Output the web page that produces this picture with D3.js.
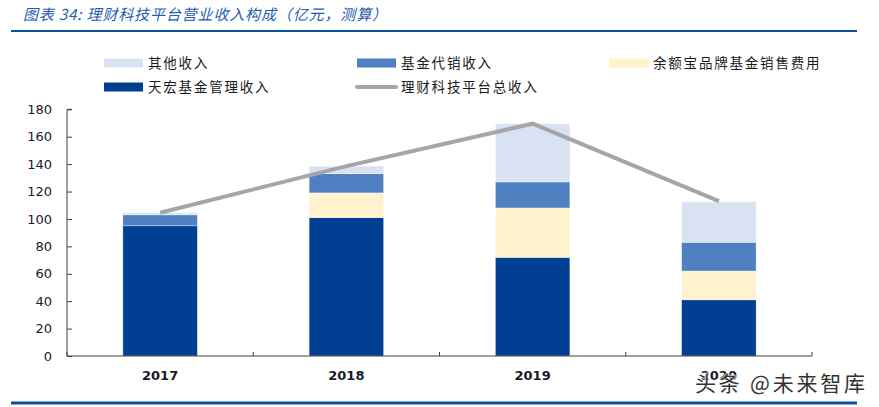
<!DOCTYPE html>
<html>
<head>
<meta charset="utf-8">
<script src="https://cdn.jsdelivr.net/npm/d3@7"></script>
<style>
  html, body { margin: 0; padding: 0; background: #fff; }
  svg { display: block; }
</style>
</head>
<body>
<div id="chart"></div>
<script>
// ---- data ----
const categories = ["2017", "2018", "2019", "2020"];
const seriesNames = ["天宏基金管理收入", "余额宝品牌基金销售费用", "基金代销收入", "其他收入"];
const tianhong = [95, 101, 72, 41];          // 天宏基金管理收入
const yuebao = [0, 18, 36, 21];              // 余额宝品牌基金销售费用
const fundSales = [8, 14, 19, 21];           // 基金代销收入
const others = [1.5, 5.5, 42.5, 29.5];       // 其他收入
const totalName = "理财科技平台总收入";
const totals = [104.5, 138.5, 169.5, 113];   // 理财科技平台总收入
const yTicks = [0, 20, 40, 60, 80, 100, 120, 140, 160, 180];
const title = "图表 34:  理财科技平台营业收入构成（亿元，测算）";
const watermark = "头条 @未来智库";

// ---- styles ----
const colors = {
  "天宏基金管理收入": "#013f93",
  "余额宝品牌基金销售费用": "#fff2cc",
  "基金代销收入": "#4f81c2",
  "其他收入": "#d9e2f3"
};
const lineColor = "#a6a6a6";
const W = 879, H = 407;
const mLeft = 67, mRight = 812, mTop = 109.3, mBottom = 356;

const svg = d3.select("#chart").append("svg").attr("width", W).attr("height", H);

// title
svg.append("text")
  .attr("x", 23).attr("y", 20)
  .attr("textLength", 364).attr("lengthAdjust", "spacing")
  .style("font-family", "'Noto Sans CJK SC', sans-serif")
  .style("font-size", "15px").style("font-style", "italic")
  .style("fill", "#1f5cb0")
  .text(title);
svg.append("line").attr("x1", 11).attr("x2", 857).attr("y1", 31).attr("y2", 31)
  .attr("stroke", "#0d4ea3").attr("stroke-width", 2.2);
svg.append("line").attr("x1", 11).attr("x2", 857).attr("y1", 403).attr("y2", 403)
  .attr("stroke", "#0d4ea3").attr("stroke-width", 3);

// scales
const x = d3.scaleBand().domain(categories).range([mLeft, mRight]).padding(0);
const y = d3.scaleLinear().domain([0, 180]).range([mBottom, mTop]);
const barW = x.bandwidth() * 0.4;

// stack
const rows = categories.map((c, i) => ({
  cat: c,
  "天宏基金管理收入": tianhong[i],
  "余额宝品牌基金销售费用": yuebao[i],
  "基金代销收入": fundSales[i],
  "其他收入": others[i]
}));
const stacked = d3.stack().keys(seriesNames)(rows);

const g = svg.append("g");
g.selectAll("g.series").data(stacked).join("g")
  .attr("class", "series")
  .attr("fill", d => colors[d.key])
  .selectAll("rect").data(d => d).join("rect")
  .attr("x", d => x(d.data.cat) + (x.bandwidth() - barW) / 2)
  .attr("width", barW)
  .attr("y", d => y(d[1]))
  .attr("height", d => Math.max(0, y(d[0]) - y(d[1])))
  .attr("stroke", "#ffffff").attr("stroke-opacity", 0.6).attr("stroke-width", 0.6);

// y axis
const yAxis = d3.axisRight(y).tickValues(yTicks).tickSize(5).tickFormat(d3.format("d"));
const ya = svg.append("g").attr("transform", `translate(${mLeft},0)`).call(yAxis);
ya.select(".domain").attr("stroke", "#404040").attr("d", `M5,${mTop}H0V${mBottom}`);
ya.selectAll(".tick line").attr("stroke", "#404040");
ya.selectAll(".tick text")
  .attr("x", -15).attr("text-anchor", "end")
  .style("font-family", "'DejaVu Sans', sans-serif")
  .style("font-size", "13px").style("fill", "#1a1a2a");

// x axis
const xa = svg.append("g").attr("transform", `translate(0,${mBottom})`)
  .call(d3.axisBottom(x).tickSize(0).tickPadding(15));
xa.select(".domain").attr("stroke", "#404040").attr("d", `M${mLeft},0H${mRight}`);
xa.selectAll(".tick text")
  .style("font-family", "'DejaVu Sans', sans-serif")
  .style("font-size", "13px").style("font-weight", "bold").style("fill", "#1a1a2a");
// boundary ticks between categories
const bounds = categories.map(c => x(c)).concat([x(categories[categories.length - 1]) + x.bandwidth()]);
xa.selectAll("line.bt").data(bounds).join("line").attr("class", "bt")
  .attr("x1", d => d).attr("x2", d => d).attr("y1", 0).attr("y2", -4)
  .attr("stroke", "#404040");

// total line
const line = d3.line()
  .x((d, i) => x(categories[i]) + x.bandwidth() / 2)
  .y(d => y(d));
svg.append("path").datum(totals)
  .attr("d", line).attr("fill", "none")
  .attr("stroke", lineColor).attr("stroke-width", 4);

// legend
const legendItems = [
  { name: "其他收入", type: "rect", x: 104, y: 63 },
  { name: "基金代销收入", type: "rect", x: 357, y: 63 },
  { name: "余额宝品牌基金销售费用", type: "rect", x: 609, y: 63 },
  { name: "天宏基金管理收入", type: "rect", x: 104, y: 87 },
  { name: totalName, type: "line", x: 357, y: 87 }
];
const lg = svg.append("g");
legendItems.forEach(it => {
  if (it.type === "rect") {
    lg.append("rect").attr("x", it.x).attr("y", it.y - 4.5).attr("width", 39).attr("height", 9)
      .attr("fill", colors[it.name]);
  } else {
    lg.append("line").attr("x1", it.x).attr("x2", it.x + 39).attr("y1", it.y).attr("y2", it.y)
      .attr("stroke", lineColor).attr("stroke-width", 4).attr("stroke-linecap", "round");
  }
  lg.append("text").attr("x", it.x + 44).attr("y", it.y).attr("dy", "0.35em")
    .style("font-family", "'Noto Sans CJK SC', sans-serif")
    .style("font-size", "13.5px").style("letter-spacing", "1.8px")
    .style("fill", "#1a1a1a")
    .text(it.name);
});

// watermark
svg.append("text").attr("x", 695).attr("y", 391)
  .attr("textLength", 170).attr("lengthAdjust", "spacing")
  .style("font-family", "'Noto Sans CJK SC', sans-serif")
  .style("font-size", "21px").style("fill", "#333")
  .style("paint-order", "stroke").attr("stroke", "rgba(255,255,255,0.7)").attr("stroke-width", 2)
  .text(watermark);
</script>
</body>
</html>
